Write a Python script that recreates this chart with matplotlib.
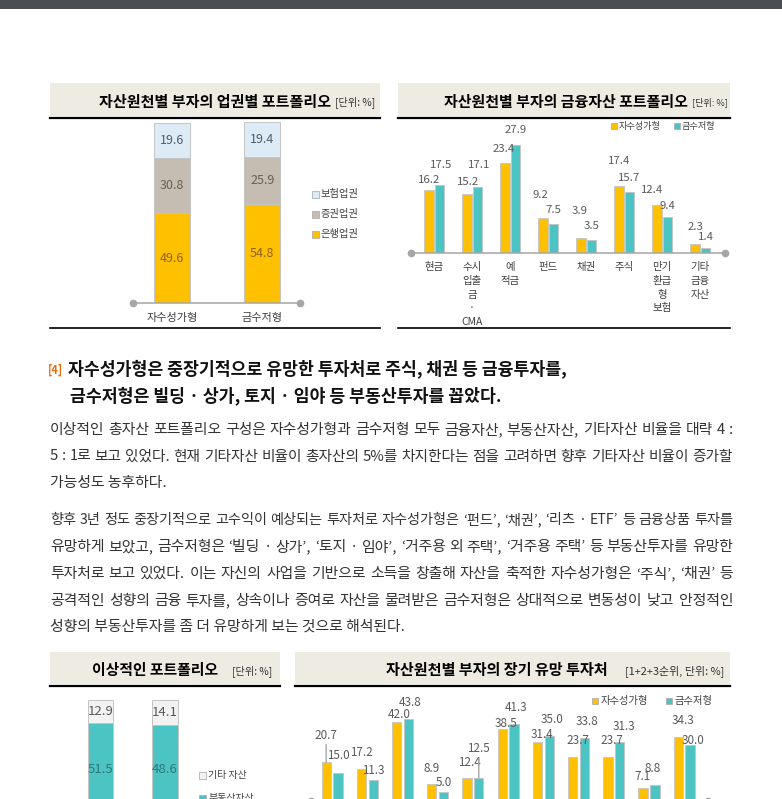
import numpy as np
import matplotlib.pyplot as plt
from matplotlib.patches import Rectangle

plt.rcParams['font.family'] = ['Noto Sans CJK KR', 'DejaVu Sans']

# ---- data ----
types = ['자수성가형', '금수저형']

sector_names = ['은행업권', '증권업권', '보험업권']
bank = [49.6, 54.8]
securities = [30.8, 25.9]
insurance = [19.6, 19.4]

fin_cats = ['현금', '수시\n입출\n금\n·\nCMA', '예\n적금', '펀드', '채권', '주식',
            '만기\n환급\n형\n보험', '기타\n금융\n자산']
fin_self = [16.2, 15.2, 23.4, 9.2, 3.9, 17.4, 12.4, 2.3]
fin_gold = [17.5, 17.1, 27.9, 7.5, 3.5, 15.7, 9.4, 1.4]

ideal_names = ['금융자산', '부동산자산', '기타 자산']
ideal_fin = [35.6, 37.3]
ideal_estate = [51.5, 48.6]
ideal_other = [12.9, 14.1]

long_self = [20.7, 17.2, 42.0, 8.9, 12.4, 38.5, 31.4, 23.7, 23.7, 7.1, 34.3]
long_gold = [15.0, 11.3, 43.8, 5.0, 12.5, 41.3, 35.0, 33.8, 31.3, 8.8, 30.0]

heading = ['자수성가형은 중장기적으로 유망한 투자처로 주식, 채권 등 금융투자를,',
           '금수저형은 빌딩 · 상가, 토지 · 임야 등 부동산투자를 꼽았다.']
para1 = ['이상적인 총자산 포트폴리오 구성은 자수성가형과 금수저형 모두 금융자산, 부동산자산, 기타자산 비율을 대략 4 :',
         '5 : 1로 보고 있었다. 현재 기타자산 비율이 총자산의 5%를 차지한다는 점을 고려하면 향후 기타자산 비율이 증가할',
         '가능성도 농후하다.']
para2 = ['향후 3년 정도 중장기적으로 고수익이 예상되는 투자처로 자수성가형은 ‘펀드’, ‘채권’, ‘리츠 · ETF’ 등 금융상품 투자를',
         '유망하게 보았고, 금수저형은 ‘빌딩 · 상가’, ‘토지 · 임야’, ‘거주용 외 주택’, ‘거주용 주택’ 등 부동산투자를 유망한',
         '투자처로 보고 있었다. 이는 자신의 사업을 기반으로 소득을 창출해 자산을 축적한 자수성가형은 ‘주식’, ‘채권’ 등',
         '공격적인 성향의 금융 투자를, 상속이나 증여로 자산을 물려받은 금수저형은 상대적으로 변동성이 낮고 안정적인',
         '성향의 부동산투자를 좀 더 유망하게 보는 것으로 해석된다.']

# label nudges (pixels) for the bar value labels
fin_off_self = [(0, 10), (1, 12), (-1, 14), (-3, 23), (-1, 27), (0, 25), (-5, 15), (0, 17)]
fin_off_gold = [(2, 20), (2, 22), (0, 15), (0, 14), (0, 14), (0, 14), (0, 11), (0, 11)]
long_off_self = [(0, 27), (0, 16), (3, 8), (0, 16), (2, 15), (4, 5), (4, 8), (5, 16), (4, 16), (-1, 11), (5, 16)]
long_off_gold = [(0, 17), (0, 9), (2, 17), (0, 9), (0, 29), (2, 16), (3, 16), (3, 16), (4, 16), (-2, 16), (3, 4)]
long_leader_self = [0]
long_leader_gold = [4]

GOLD = '#ffc000'
TEAL = '#4cc4c4'
EDGE = '#c4c4c4'
AXC = '#a6a6a6'
LBL = '#595959'
HEAD_BG = '#eeece2'

W, H = 782, 799
fig = plt.figure(figsize=(W / 100, H / 100), dpi=100)
R = fig.canvas.get_renderer()

page = fig.add_axes([0, 0, 1, 1])
page.set_xlim(0, W)
page.set_ylim(H, 0)
page.axis('off')


def rect(x0, y0, x1, y1):
    return [x0 / W, 1 - y1 / H, (x1 - x0) / W, (y1 - y0) / H]


def fit(s, x0, x1, y, size=10, **kw):
    t = page.text(x0, y, s, fontsize=size, va='center', ha='left', **kw)
    w = t.get_window_extent(R).width
    t.set_fontsize(size * (x1 - x0) / w)
    return t


def natural(s, size, **kw):
    t = page.text(0, 0, s, fontsize=size, **kw)
    w = t.get_window_extent(R).width
    t.remove()
    return w


def justify(s, x0, x1, y, size, **kw):
    words = s.split(' ')
    ts = [page.text(0, y, w, fontsize=size, va='center', ha='left', **kw) for w in words]
    ws = [t.get_window_extent(R).width for t in ts]
    gap = (x1 - x0 - sum(ws)) / (len(ws) - 1)
    x = x0
    for t, w in zip(ts, ws):
        t.set_x(x)
        x += w + gap


def header(x0, x1, y0, y1, title, tx0, tx1, unit, ux0, ux1, bottom=None):
    page.add_patch(Rectangle((x0, y0), x1 - x0, y1 - y0, color=HEAD_BG, lw=0))
    page.plot([x0, x1], [y1 + 1.5, y1 + 1.5], color='black', lw=1.6)
    if bottom is not None:
        page.plot([x0, x1], [bottom, bottom], color='black', lw=1.2)
    yc = (y0 + y1) / 2 + 2
    fit(title, tx0, tx1, yc, weight='bold', color='black')
    fit(unit, ux0, ux1, yc + 1, color='#333333')


def swatch(x, y, color, label, size, s=7, gap=5):
    page.add_patch(Rectangle((x - s / 2, y - s / 2), s, s, fc=color, ec='#b0b0b0', lw=0.6))
    page.text(x + s / 2 + gap - 3, y, label, fontsize=size, va='center', ha='left', color='#404040')


def chart_axes(x0, x1, ybase, ytop, axis=True):
    ax = fig.add_axes(rect(x0, ytop, x1, ybase))
    ax.patch.set_alpha(0)
    for s in ['top', 'right', 'left']:
        ax.spines[s].set_visible(False)
    ax.spines['bottom'].set_color(AXC)
    ax.spines['bottom'].set_linewidth(1.1)
    ax.spines['bottom'].set_visible(axis)
    ax.tick_params(left=False, labelleft=False, bottom=False, labelbottom=False)
    if axis:
        ax.plot([0, 1], [0, 0], transform=ax.transAxes, ls='none', marker='o', ms=4.5,
                color=AXC, clip_on=False, zorder=5)
    return ax


# top bar
page.add_patch(Rectangle((0, 0), W, 9, color='#4a4d51', lw=0))

# ---- chart 1: 업권별 포트폴리오 ----
header(50, 380, 83, 116, '자산원천별 부자의 업권별 포트폴리오', 99, 330, '[단위: %]', 335, 375, bottom=328)
ax1 = chart_axes(132.7, 300, 302.7, 116)
ax1.set_xlim(-0.438, 1.418)
ax1.set_ylim(0, 103.7)
x = np.arange(len(types))
base = np.zeros(len(types))
for vals, col, tcol in [(bank, GOLD, '#8f6414'), (securities, '#c5bdb1', '#6b5f52'),
                        (insurance, '#ddebf7', '#4f5d6c')]:
    ax1.bar(x, vals, 0.4, bottom=base, color=col, edgecolor=EDGE, lw=0.7)
    for xi, b, v in zip(x, base, vals):
        ax1.text(xi, b + v / 2, f'{v:.1f}', ha='center', va='center', fontsize=9, color=tcol)
    base = base + np.array(vals)
ax1.tick_params(labelbottom=True, pad=3.5, labelsize=8, labelcolor='#404040')
ax1.set_xticks(x, types)
swatch(315, 194, '#ddebf7', sector_names[2], 7.4)
swatch(315, 214.5, '#c5bdb1', sector_names[1], 7.4)
swatch(315, 234.5, GOLD, sector_names[0], 7.4)

# ---- chart 2: 금융자산 포트폴리오 ----
header(398, 730, 83, 116, '자산원천별 부자의 금융자산 포트폴리오', 444, 688, '[단위: %]', 692, 728, bottom=328)
ax2 = chart_axes(410.7, 725, 253.3, 116)
ax2.set_xlim(-0.613, 7.658)
ax2.set_ylim(0, (253.3 - 116) / 3.88)
x = np.arange(len(fin_cats))
ax2.bar(x - 0.13, fin_self, 0.24, color=GOLD, edgecolor=EDGE, lw=0.6)
ax2.bar(x + 0.145, fin_gold, 0.24, color=TEAL, edgecolor=EDGE, lw=0.6)
for xi, v, o in zip(x, fin_self, fin_off_self):
    ax2.annotate(f'{v:.1f}', (xi - 0.13, v), xytext=o, textcoords='offset pixels',
                 ha='center', va='center', fontsize=8.2, color=LBL)
for xi, v, o in zip(x, fin_gold, fin_off_gold):
    ax2.annotate(f'{v:.1f}', (xi + 0.145, v), xytext=o, textcoords='offset pixels',
                 ha='center', va='center', fontsize=8.2, color=LBL)
ax2.tick_params(labelbottom=True, pad=3, labelsize=7.5, labelcolor='#404040')
ax2.set_xticks(x, fin_cats, linespacing=1.45)
swatch(613.7, 126, GOLD, types[0], 6.6, s=6)
swatch(676.7, 126, TEAL, types[1], 6.6, s=6)

# ---- text block ----
page.text(48, 370, '[4]', fontsize=8, weight='bold', color='#e46c0a', va='center', ha='left')
h = fit(heading[0], 68, 565, 369, weight='bold', color='#111111')
page.text(70, 396, heading[1], fontsize=h.get_fontsize(), weight='bold', color='#111111',
          va='center', ha='left')

full = [para1[0], para1[1]] + para2[:4]
fits = [683 / natural(s, 10) * 10 for s in full]
body = float(np.median(fits)) * 0.995
lines = [(s, y) for s, y in zip(para1, [430, 456.5, 483])] + \
        [(s, y) for s, y in zip(para2, [520, 547, 574, 600.5, 627])]
for s, y in lines:
    if s in full:
        justify(s, 50, 733, y, min(body, fits[full.index(s)] * 0.995), color='#333333')
    else:
        page.text(50, y, s, fontsize=body, va='center', ha='left', color='#333333')

# ---- chart 3: 이상적인 포트폴리오 ----
header(50, 280, 652, 684, '이상적인 포트폴리오', 92, 218, '[단위: %]', 232, 272)
ax3 = chart_axes(50, 280, 880, 688, axis=False)
ax3.set_xlim(-0.783, 2.783)
ax3.set_ylim(0, (880 - 688) / 1.8)
x = np.arange(len(types))
base = np.zeros(len(types))
for vals, col, tcol in [(ideal_fin, GOLD, '#8f6414'), (ideal_estate, TEAL, '#2f7676'),
                        (ideal_other, '#f2f2f2', LBL)]:
    ax3.bar(x, vals, 0.395, bottom=base, color=col, edgecolor=EDGE, lw=0.7)
    for xi, b, v in zip(x, base, vals):
        ax3.text(xi, b + v / 2, f'{v:.1f}', ha='center', va='center', fontsize=9.5, color=tcol)
    base = base + np.array(vals)
swatch(202.7, 775, '#f2f2f2', ideal_names[2], 7.2)
swatch(202.7, 798, TEAL, ideal_names[1], 7.2)
swatch(202.7, 821, GOLD, ideal_names[0], 7.2)

# ---- chart 4: 장기 유망 투자처 ----
header(295, 730, 652, 684, '자산원천별 부자의 장기 유망 투자처', 386, 608,
       '[1+2+3순위, 단위: %]', 625, 725)
ax4 = chart_axes(310.7, 708, 801.1, 688)
ax4.set_xlim(-0.605, 10.68)
ax4.set_ylim(0, (801.1 - 688) / 1.874)
x = np.arange(len(long_self))
ax4.bar(x - 0.165, long_self, 0.265, color=GOLD, edgecolor=EDGE, lw=0.6)
ax4.bar(x + 0.17, long_gold, 0.265, color=TEAL, edgecolor=EDGE, lw=0.6)
for i, (v, o) in enumerate(zip(long_self, long_off_self)):
    ap = dict(arrowstyle='-', color=AXC, lw=1, shrinkA=0, shrinkB=0) if i in long_leader_self else None
    ax4.annotate(f'{v:.1f}', (i - 0.165, v), xytext=o, textcoords='offset pixels',
                 ha='center', va='center', fontsize=8.4, color=LBL, arrowprops=ap)
for i, (v, o) in enumerate(zip(long_gold, long_off_gold)):
    ap = dict(arrowstyle='-', color=AXC, lw=1, shrinkA=0, shrinkB=0) if i in long_leader_gold else None
    ax4.annotate(f'{v:.1f}', (i + 0.17, v), xytext=o, textcoords='offset pixels',
                 ha='center', va='center', fontsize=8.4, color=LBL, arrowprops=ap)
swatch(595, 701, GOLD, types[0], 7.4, s=6.5)
swatch(669, 701, TEAL, types[1], 7.4, s=6.5)

fig.savefig('out.png', dpi=100)
